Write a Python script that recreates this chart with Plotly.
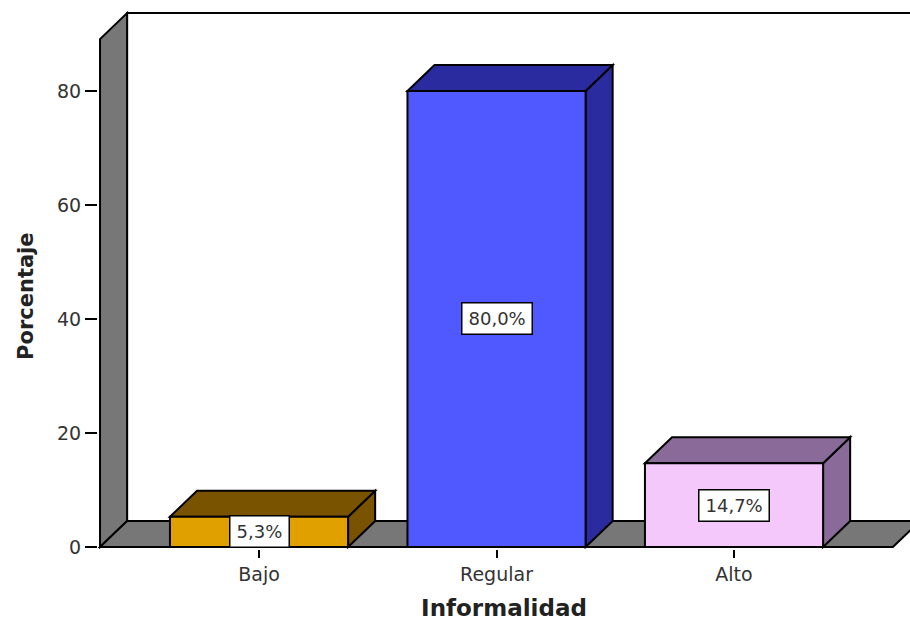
import plotly.graph_objects as go

# Data
categories = ["Bajo", "Regular", "Alto"]
percentages = [5.3, 80.0, 14.7]
front_colors = ["#E0A000", "#5058FF", "#F4C8FA"]
shade_colors = ["#7A5300", "#2B2BA0", "#8A6A98"]
y_ticks = [0, 20, 40, 60, 80]

# 3D box geometry (in axis units)
bar_width = 0.75
depth_x = 0.114          # horizontal depth offset (category units)
depth_y = 4.56           # vertical depth offset (percentage units)
floor_left = -0.6695
floor_right = 2.669
wall_top = 89.1
wall_gray = "#777777"
edge = dict(color="black", width=2)

x_pos = list(range(len(categories)))


def poly(points):
    return "M " + " L ".join(f"{x},{y}" for x, y in points) + " Z"


shapes = []
# back wall
shapes.append(dict(
    type="rect", xref="x", yref="y", layer="below",
    x0=floor_left + depth_x, x1=floor_right + depth_x + 0.2,
    y0=depth_y, y1=wall_top + depth_y,
    fillcolor="white", line=edge))
# left wall
shapes.append(dict(
    type="path", xref="x", yref="y", layer="below",
    path=poly([(floor_left, 0), (floor_left + depth_x, depth_y),
               (floor_left + depth_x, wall_top + depth_y), (floor_left, wall_top)]),
    fillcolor=wall_gray, line=edge))
# floor
shapes.append(dict(
    type="path", xref="x", yref="y", layer="below",
    path=poly([(floor_left, 0), (floor_right, 0),
               (floor_right + depth_x, depth_y), (floor_left + depth_x, depth_y)]),
    fillcolor=wall_gray, line=edge))

# side and top faces of each bar
for xi, v, shade in zip(x_pos, percentages, shade_colors):
    l, r = xi - bar_width / 2, xi + bar_width / 2
    shapes.append(dict(
        type="path", xref="x", yref="y", layer="below",
        path=poly([(r, 0), (r + depth_x, depth_y), (r + depth_x, v + depth_y), (r, v)]),
        fillcolor=shade, line=edge))
    shapes.append(dict(
        type="path", xref="x", yref="y", layer="below",
        path=poly([(l, v), (l + depth_x, v + depth_y), (r + depth_x, v + depth_y), (r, v)]),
        fillcolor=shade, line=edge))

fig = go.Figure(go.Bar(
    x=x_pos, y=percentages, width=bar_width,
    marker=dict(color=front_colors, line=dict(color="black", width=2)),
    hoverinfo="skip",
))

# value labels in the middle of each bar
annotations = []
for xi, v in zip(x_pos, percentages):
    annotations.append(dict(
        x=xi, y=v / 2, xref="x", yref="y",
        text=f"{v:.1f}%".replace(".", ","), showarrow=False,
        font=dict(family="DejaVu Sans", size=18, color="#333333"),
        bgcolor="white", bordercolor="black", borderwidth=1.5,
        borderpad=6, height=18,
    ))

# vertical axis title
annotations.append(dict(
    x=-0.089, y=44, xref="paper", yref="y",
    text="<b>Porcentaje</b>", textangle=-90, showarrow=False,
    xanchor="center", yanchor="middle",
    font=dict(family="DejaVu Sans", size=21, color="#222222"),
))

fig.update_layout(
    width=910, height=621,
    margin=dict(l=98, r=0, t=4, b=72),
    paper_bgcolor="white", plot_bgcolor="white",
    shapes=shapes, annotations=annotations,
    showlegend=False,
    font=dict(family="DejaVu Sans", color="#333333"),
    xaxis=dict(
        range=[-0.678, 2.741], tickvals=x_pos, ticktext=categories,
        showgrid=False, zeroline=False, showline=False,
        ticks="outside", ticklen=8, tickwidth=2, tickcolor="black",
        tickfont=dict(family="DejaVu Sans", size=19, color="#333333"),
        title=dict(text="<b>Informalidad</b>", standoff=16,
                   font=dict(family="DejaVu Sans", size=23, color="#222222")),
    ),
    yaxis=dict(
        range=[-0.351, 95.26], tickvals=y_ticks,
        showgrid=False, zeroline=False, showline=False,
        ticks="outside", ticklen=12, tickwidth=2, tickcolor="black",
        tickfont=dict(family="DejaVu Sans", size=19, color="#333333"),
    ),
)

fig.write_html("out.html")
